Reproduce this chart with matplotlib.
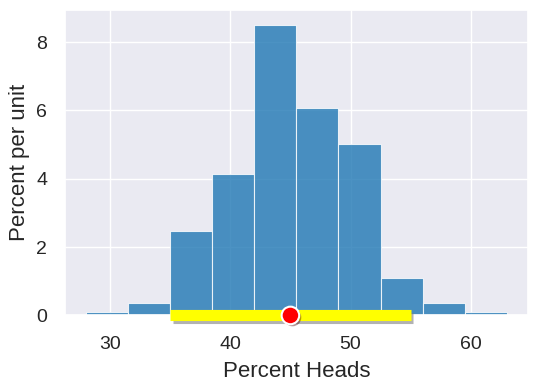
import matplotlib
matplotlib.use('Agg')
import matplotlib.pyplot as plt
import matplotlib.patheffects as pe
import numpy as np
import seaborn as sns

# histogram of simulated percent heads
bin_edges = [28, 31.5, 35, 38.5, 42, 45.5, 49, 52.5, 56, 59.5, 63]
percent_per_unit = [0.1, 0.36, 2.47, 4.13, 8.51, 6.07, 5.02, 1.09, 0.37, 0.1]

interval = [35, 55]
observed = 45

sns.set_theme(style='darkgrid')
plt.rcParams['font.family'] = ['Liberation Sans', 'DejaVu Sans']

fig = plt.figure(figsize=(5.38, 3.88), dpi=100)
ax = fig.add_axes([0.121, 0.187, 0.86, 0.787])

left = np.array(bin_edges[:-1])
widths = np.diff(bin_edges)
ax.bar(left, percent_per_unit, width=widths, align='edge',
       color='#1f77b4', alpha=0.8, edgecolor='white', linewidth=0.8)

shadow = [pe.SimpleLineShadow(offset=(2, -2), shadow_color='gray', alpha=0.6), pe.Normal()]
ax.plot(interval, [0, 0], color='yellow', lw=8, solid_capstyle='butt',
        clip_on=False, zorder=4, path_effects=shadow)
ax.scatter([observed], [0], s=160, color='red', edgecolor='white', linewidth=1.5,
           clip_on=False, zorder=5,
           path_effects=[pe.SimplePatchShadow(offset=(1.5, -1.5), alpha=0.4), pe.Normal()])

ax.set_ylim(bottom=0)
ax.set_xticks([30, 40, 50, 60])
ax.set_yticks([0, 2, 4, 6, 8])
ax.tick_params(axis='x', labelsize=14, length=0, pad=15)
ax.tick_params(axis='y', labelsize=14, length=0, pad=13)
ax.set_xlabel('Percent Heads', fontsize=16)
ax.set_ylabel('Percent per unit', fontsize=16)
ax.xaxis.set_label_coords(0.5, -0.15)
ax.yaxis.set_label_coords(-0.076, 0.5)

fig.savefig('out.png', dpi=100)
